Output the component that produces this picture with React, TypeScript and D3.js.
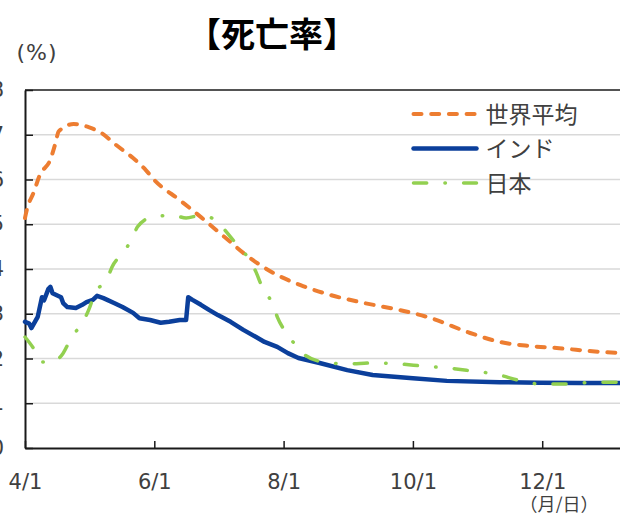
import React, { useEffect, useRef } from 'react';
import * as d3 from 'd3';

// 死亡率 (%) — world average, India, Japan, 2020-04 .. 2021-01
const worldDates = ["2020-04-01", "2020-04-02", "2020-04-05", "2020-04-08", "2020-04-13", "2020-04-15", "2020-04-17", "2020-04-24", "2020-05-01", "2020-05-07", "2020-05-14", "2020-05-22", "2020-05-28", "2020-06-01", "2020-06-13", "2020-06-23", "2020-07-04", "2020-07-16", "2020-07-28", "2020-08-09", "2020-08-23", "2020-09-06", "2020-09-25", "2020-10-09", "2020-10-28", "2020-11-11", "2020-11-25", "2020-12-09", "2020-12-28", "2021-01-09"];
const worldValues = [5.14, 5.35, 5.7, 6.1, 6.45, 6.75, 7.08, 7.24, 7.17, 7.04, 6.77, 6.48, 6.21, 5.99, 5.54, 5.16, 4.72, 4.25, 3.89, 3.64, 3.42, 3.26, 3.08, 2.91, 2.57, 2.37, 2.28, 2.23, 2.15, 2.12];

const indiaDates = ["2020-04-01", "2020-04-03", "2020-04-04", "2020-04-07", "2020-04-09", "2020-04-10", "2020-04-12", "2020-04-13", "2020-04-14", "2020-04-18", "2020-04-19", "2020-04-21", "2020-04-25", "2020-04-28", "2020-04-30", "2020-05-03", "2020-05-05", "2020-05-08", "2020-05-13", "2020-05-17", "2020-05-22", "2020-05-25", "2020-05-30", "2020-06-04", "2020-06-08", "2020-06-13", "2020-06-16", "2020-06-17", "2020-06-19", "2020-06-23", "2020-06-27", "2020-07-01", "2020-07-07", "2020-07-13", "2020-07-19", "2020-07-23", "2020-07-29", "2020-08-03", "2020-08-08", "2020-08-18", "2020-08-31", "2020-09-12", "2020-10-01", "2020-10-17", "2020-11-11", "2020-11-30", "2020-12-19", "2021-01-09"];
const indiaValues = [2.82, 2.78, 2.68, 2.93, 3.37, 3.3, 3.55, 3.6, 3.46, 3.37, 3.24, 3.15, 3.13, 3.2, 3.26, 3.31, 3.4, 3.35, 3.24, 3.15, 3.02, 2.9, 2.86, 2.8, 2.82, 2.86, 2.86, 3.37, 3.31, 3.2, 3.08, 2.97, 2.82, 2.64, 2.48, 2.37, 2.26, 2.12, 2.01, 1.9, 1.74, 1.63, 1.56, 1.5, 1.47, 1.46, 1.45, 1.45];

const japanDates = ["2020-04-01", "2020-04-05", "2020-04-09", "2020-04-14", "2020-04-19", "2020-04-23", "2020-04-28", "2020-05-01", "2020-05-04", "2020-05-10", "2020-05-12", "2020-05-17", "2020-05-22", "2020-05-24", "2020-05-31", "2020-06-10", "2020-06-16", "2020-06-23", "2020-07-01", "2020-07-05", "2020-07-10", "2020-07-16", "2020-07-19", "2020-07-22", "2020-07-27", "2020-07-29", "2020-08-02", "2020-08-08", "2020-08-11", "2020-08-20", "2020-08-31", "2020-09-12", "2020-09-24", "2020-10-06", "2020-10-17", "2020-10-29", "2020-11-09", "2020-11-21", "2020-11-30", "2020-12-14", "2020-12-25", "2021-01-09"];
const japanValues = [2.48, 2.23, 1.92, 1.92, 2.12, 2.48, 2.79, 3.08, 3.46, 3.8, 4.04, 4.35, 4.72, 4.94, 5.16, 5.2, 5.14, 5.2, 5.05, 4.83, 4.54, 4.2, 3.93, 3.58, 3.2, 2.93, 2.59, 2.23, 2.08, 1.92, 1.88, 1.9, 1.88, 1.83, 1.79, 1.72, 1.65, 1.5, 1.43, 1.43, 1.47, 1.47];

const yTicks = [0, 1, 2, 3, 4, 5, 6, 7, 8];
const xTickDates = ["2020-04-01", "2020-06-01", "2020-08-01", "2020-10-01", "2020-12-01"];
const xTickLabels = ["4/1", "6/1", "8/1", "10/1", "12/1"];
const legendLabels = ["世界平均", "インド", "日本"];

const numFont = "'DejaVu Sans', Verdana, sans-serif";
const jpFont = "'Noto Sans CJK JP', sans-serif";
const axisColor = "#1a1a1a";
const textColor = "#404040";

function App() {
  const svgRef = useRef<SVGSVGElement>(null);

  useEffect(() => {
    const svg = d3.select(svgRef.current);
    svg.selectAll("*").remove();

    const parse = d3.utcParse("%Y-%m-%d");
    const left = 25, top = 90, bottom = 448;

    const x = d3.scaleUtc()
      .domain([parse("2020-04-01")!, parse("2021-01-10")!])
      .range([left, 627]);
    const y = d3.scaleLinear().domain([0, 8]).range([bottom, top]);

    const series = [
      { dates: worldDates, values: worldValues, color: "#ED7D31", width: 4, dash: "8,9.7", curve: d3.curveMonotoneX },
      { dates: indiaDates, values: indiaValues, color: "#0B3F9B", width: 4.5, dash: null, curve: d3.curveLinear },
      { dates: japanDates, values: japanValues, color: "#92D050", width: 3.5, dash: "13.2,18.2,0.5,18.2", curve: d3.curveMonotoneX },
    ];

    // gridlines
    svg.append("g")
      .selectAll("line")
      .data(yTicks.filter(v => v > 0 && v < 8))
      .enter().append("line")
      .attr("x1", left).attr("x2", 627)
      .attr("y1", d => y(d)).attr("y2", d => y(d))
      .attr("stroke", "#d9d9d9")
      .attr("stroke-width", 1.5);

    // top border
    svg.append("line")
      .attr("x1", left).attr("x2", 627)
      .attr("y1", y(8)).attr("y2", y(8))
      .attr("stroke", axisColor).attr("stroke-width", 1.5);

    // axes
    const yAxis = svg.append("g")
      .attr("transform", `translate(${left},0)`)
      .call(d3.axisLeft(y).tickValues(yTicks).tickSize(-8).tickSizeOuter(0).tickPadding(21).tickFormat(d3.format("d")));

    const xAxis = svg.append("g")
      .attr("transform", `translate(0,${bottom})`)
      .call(d3.axisBottom(x)
        .tickValues(xTickDates.map(d => parse(d)!))
        .tickFormat((_, i) => xTickLabels[i])
        .tickSize(-7).tickSizeOuter(0).tickPadding(26));

    [yAxis, xAxis].forEach(ax => {
      ax.select(".domain").attr("stroke", axisColor).attr("stroke-width", 2);
      ax.selectAll(".tick line").attr("stroke", axisColor).attr("stroke-width", 1.5);
      ax.selectAll("text")
        .attr("fill", textColor)
        .style("font-family", numFont)
        .style("font-size", "21px");
    });

    // lines
    series.forEach(s => {
      const pts = s.dates.map((d, i) => [parse(d)!, s.values[i]] as [Date, number]);
      const line = d3.line<[Date, number]>()
        .x(d => x(d[0]))
        .y(d => y(d[1]))
        .curve(s.curve);
      svg.append("path")
        .datum(pts)
        .attr("d", line)
        .attr("fill", "none")
        .attr("stroke", s.color)
        .attr("stroke-width", s.width)
        .attr("stroke-linecap", "round")
        .attr("stroke-linejoin", "round")
        .attr("stroke-dasharray", s.dash);
    });

    // legend
    const legend = svg.append("g").attr("transform", "translate(413.5,114)");
    series.forEach((s, i) => {
      const row = legend.append("g").attr("transform", `translate(0,${i * 34.5})`);
      row.append("line")
        .attr("x1", 0).attr("x2", 63)
        .attr("stroke", s.color)
        .attr("stroke-width", s.width)
        .attr("stroke-linecap", "round")
        .attr("stroke-dasharray", s.dash);
      row.append("text")
        .attr("x", 72).attr("y", 8.5)
        .attr("fill", textColor)
        .style("font-family", jpFont)
        .style("font-size", "23px")
        .text(legendLabels[i]);
    });

    // titles
    svg.append("text")
      .attr("x", 272).attr("y", 47)
      .attr("text-anchor", "middle")
      .attr("fill", "#000")
      .style("font-family", jpFont)
      .style("font-size", "34px")
      .style("font-weight", "bold")
      .text("【死亡率】");

    svg.append("text")
      .attr("x", 37).attr("y", 60)
      .attr("text-anchor", "middle")
      .attr("fill", textColor)
      .style("font-family", numFont)
      .style("font-size", "22px")
      .style("letter-spacing", "1px")
      .text("(%)");

    svg.append("text")
      .attr("x", 559).attr("y", 511)
      .attr("text-anchor", "middle")
      .attr("fill", textColor)
      .style("font-family", jpFont)
      .style("font-size", "18px")
      .text("（月/日）");
  }, []);

  return (
    <svg ref={svgRef} width="620" height="513"
      style={{ position: "absolute", left: 0, top: 0, background: "#fff" }}></svg>
  );
}

export default App;
